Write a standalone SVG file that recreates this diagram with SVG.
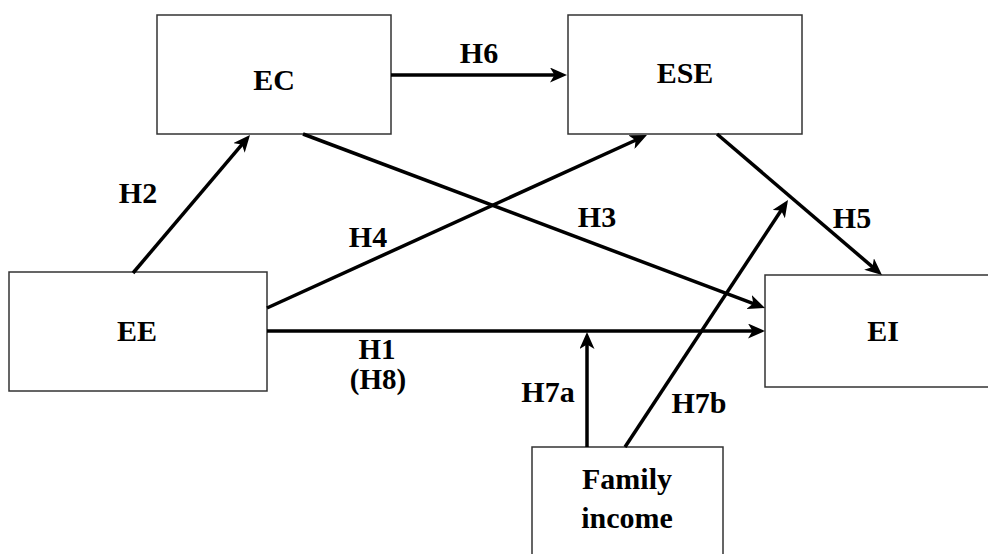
<svg xmlns="http://www.w3.org/2000/svg" width="988" height="554" viewBox="0 0 988 554">
<style>
.box{fill:#fff;stroke:#333;stroke-width:1.5}
.t{font-family:"Liberation Serif","Times New Roman",serif;font-weight:bold;font-size:30px;fill:#000;text-anchor:middle}
.s{font-size:29px}
.c{stroke:#000;stroke-width:3.5;fill:none;marker-end:url(#ah)}
</style>
<defs>
<marker id="ah" markerUnits="userSpaceOnUse" markerWidth="17" markerHeight="15" refX="11" refY="7.5" orient="auto" viewBox="0 0 17 15">
<path d="M0,0 L17,7.5 L0,15 L4.5,7.5 z" fill="#000"/>
</marker>
</defs>
<rect width="988" height="554" fill="#fff"/>
<g id="EC"><rect class="box" x="157" y="15" width="234" height="119"/><text class="t" x="274" y="90">EC</text></g>
<g id="ESE"><rect class="box" x="568" y="15" width="234" height="119"/><text class="t" x="685" y="83">ESE</text></g>
<g id="EE"><rect class="box" x="9" y="272" width="258" height="119"/><text class="t" x="137" y="341">EE</text></g>
<g id="EI"><rect class="box" x="765" y="275" width="240" height="112"/><text class="t" x="883" y="341">EI</text></g>
<g id="FamilyIncome"><rect class="box" x="532" y="447" width="191" height="120"/><text class="t" x="627" y="489">Family</text><text class="t" x="627" y="528">income</text></g>
<g id="connectors">
<line class="c" x1="133" y1="273" x2="246.1" y2="139.6"/>
<line class="c" x1="391" y1="75" x2="561" y2="75"/>
<line class="c" x1="303" y1="134" x2="759.4" y2="305.9"/>
<line class="c" x1="267" y1="308" x2="641.5" y2="137.5"/>
<line class="c" x1="267" y1="331" x2="759" y2="331"/>
<line class="c" x1="717" y1="134" x2="877.4" y2="271.1"/>
<line class="c" x1="587" y1="447" x2="587" y2="338"/>
<line class="c" x1="625" y1="447" x2="784.7" y2="205"/>
</g>
<g id="labels">
<text class="t" x="479" y="63">H6</text>
<text class="t" x="138" y="203">H2</text>
<text class="t" x="368" y="247">H4</text>
<text class="t" x="597" y="227">H3</text>
<text class="t" x="852" y="228">H5</text>
<text class="t s" x="377" y="359">H1</text>
<text class="t s" x="378" y="389">(H8)</text>
<text class="t" x="548" y="402">H7a</text>
<text class="t" x="699" y="413">H7b</text>
</g>
</svg>
